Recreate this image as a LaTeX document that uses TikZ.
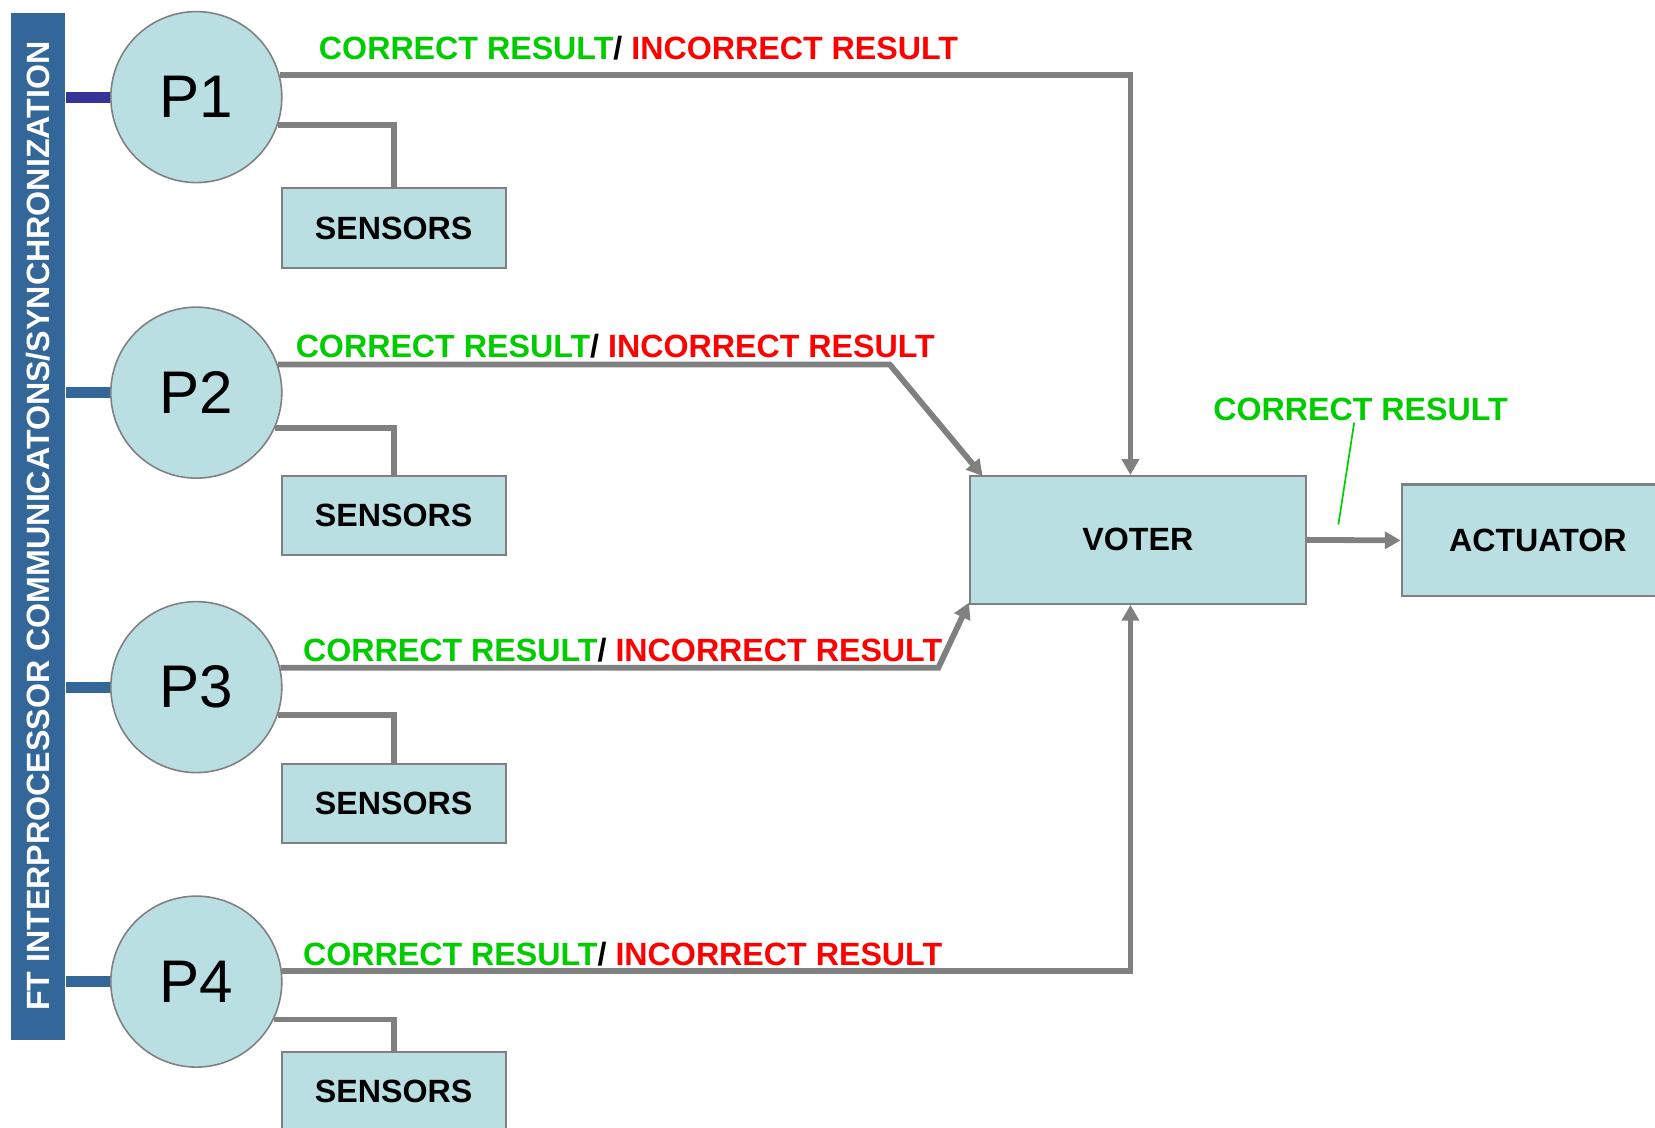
\documentclass[tikz,border=0pt]{standalone}
\usepackage{fontspec}
\setmainfont{Liberation Sans}
\usetikzlibrary{arrows.meta,calc}
\definecolor{boxfill}{RGB}{185,223,227}
\definecolor{lgray}{RGB}{128,128,128}
\definecolor{barblue}{RGB}{51,102,153}
\definecolor{linkpurple}{RGB}{51,51,153}
\definecolor{okgreen}{RGB}{0,204,0}
\definecolor{badred}{RGB}{255,0,0}
\begin{document}
\begin{tikzpicture}[x=1pt,y=-1pt,
  lbl/.style={font=\fontsize{30.5}{35}\selectfont\bfseries},
  proc/.style={circle, draw=lgray, line width=1.5pt, fill=boxfill, minimum size=162pt, inner sep=0pt, font=\fontsize{57}{60}\selectfont},
  sens/.style={rectangle, draw=lgray, line width=2pt, fill=boxfill, minimum width=212pt, minimum height=75pt, inner sep=0pt, lbl},
  wire/.style={draw=lgray, line width=5.5pt},
  arr/.style={wire, -{Triangle[length=15pt,width=16pt]}},
  res/.style={lbl, anchor=base west, inner sep=0pt},
  link/.style={line width=10.5pt},
]
\useasboundingbox (0,0) rectangle (1568,1068);

% bus bar
\node[rotate=90, fill=barblue, minimum width=973pt, minimum height=52pt, inner sep=0pt, text=white, lbl] (bar) at (36,498.5) {FT INTERPROCESSOR COMMUNICATONS/SYNCHRONIZATION};

% processors
\node[proc] (P1) at (186,92) {P1};
\node[proc] (P2) at (186,372) {P2};
\node[proc] (P3) at (186,651) {P3};
\node[proc] (P4) at (186,930) {P4};

% bus links
\draw[link, linkpurple] (bar.south |- P1) -- (P1.west);
\draw[link, barblue] (bar.south |- P2) -- (P2.west);
\draw[link, barblue] (bar.south |- P3) -- (P3.west);
\draw[link, barblue] (bar.south |- P4) -- (P4.west);

% sensors
\node[sens] (s1) at (373,216) {SENSORS};
\node[sens] (s2) at (373,488.5) {SENSORS};
\node[sens] (s3) at (373,761.5) {SENSORS};
\node[sens] (s4) at (373,1034.5) {SENSORS};

\draw[wire] (P1.-19) -| (s1.north);
\draw[wire] (P2.-24) -| (s2.north);
\draw[wire] (P3.-19.5) -| (s3.north);
\draw[wire] (P4.-26) -| (s4.north);

% voter and actuator
\node[rectangle, draw=lgray, line width=2pt, fill=boxfill, minimum width=318pt, minimum height=121pt, inner sep=0pt, lbl] (voter) at (1078,511.5) {VOTER};
\node[rectangle, draw=lgray, line width=2pt, fill=boxfill, minimum width=258pt, minimum height=106pt, inner sep=0pt, lbl] (act) at (1457,512) {ACTUATOR};

% result paths
\coordinate (b2) at (843,0);
\coordinate (b3) at (889,0);
\draw[arr] (P1.15) -| ([xshift=-7pt]voter.north);
\draw[arr, line join=miter] (P2.19.5) -- (P2.19.5 -| b2) -- ([xshift=13pt,yshift=-1pt]voter.north west);
\draw[arr, line join=miter] (P3.13.6) -- (P3.13.6 -| b3) -- ([yshift=2pt]voter.south west);
\draw[arr] (P4.7) -| ([xshift=-7pt]voter.south);
\draw[arr] (voter.east) -- (act.west);

% labels
\node[res] (l1) at (302,56) {\textcolor{okgreen}{CORRECT RESULT}/ \textcolor{badred}{INCORRECT RESULT}};
\node[res] (l2) at (280,339) {\textcolor{okgreen}{CORRECT RESULT}/ \textcolor{badred}{INCORRECT RESULT}};
\node[res] (l3) at (287,627) {\textcolor{okgreen}{CORRECT RESULT}/ \textcolor{badred}{INCORRECT RESULT}};
\node[res] (l4) at (287,915) {\textcolor{okgreen}{CORRECT RESULT}/ \textcolor{badred}{INCORRECT RESULT}};

\node[lbl, text=okgreen] (cr) at (1289,388) {CORRECT RESULT};
\coordinate (crp) at (1268,497);
\draw[okgreen, line width=1.6pt] ([xshift=-6pt,yshift=2pt]cr.south) -- (crp);
\end{tikzpicture}
\end{document}
